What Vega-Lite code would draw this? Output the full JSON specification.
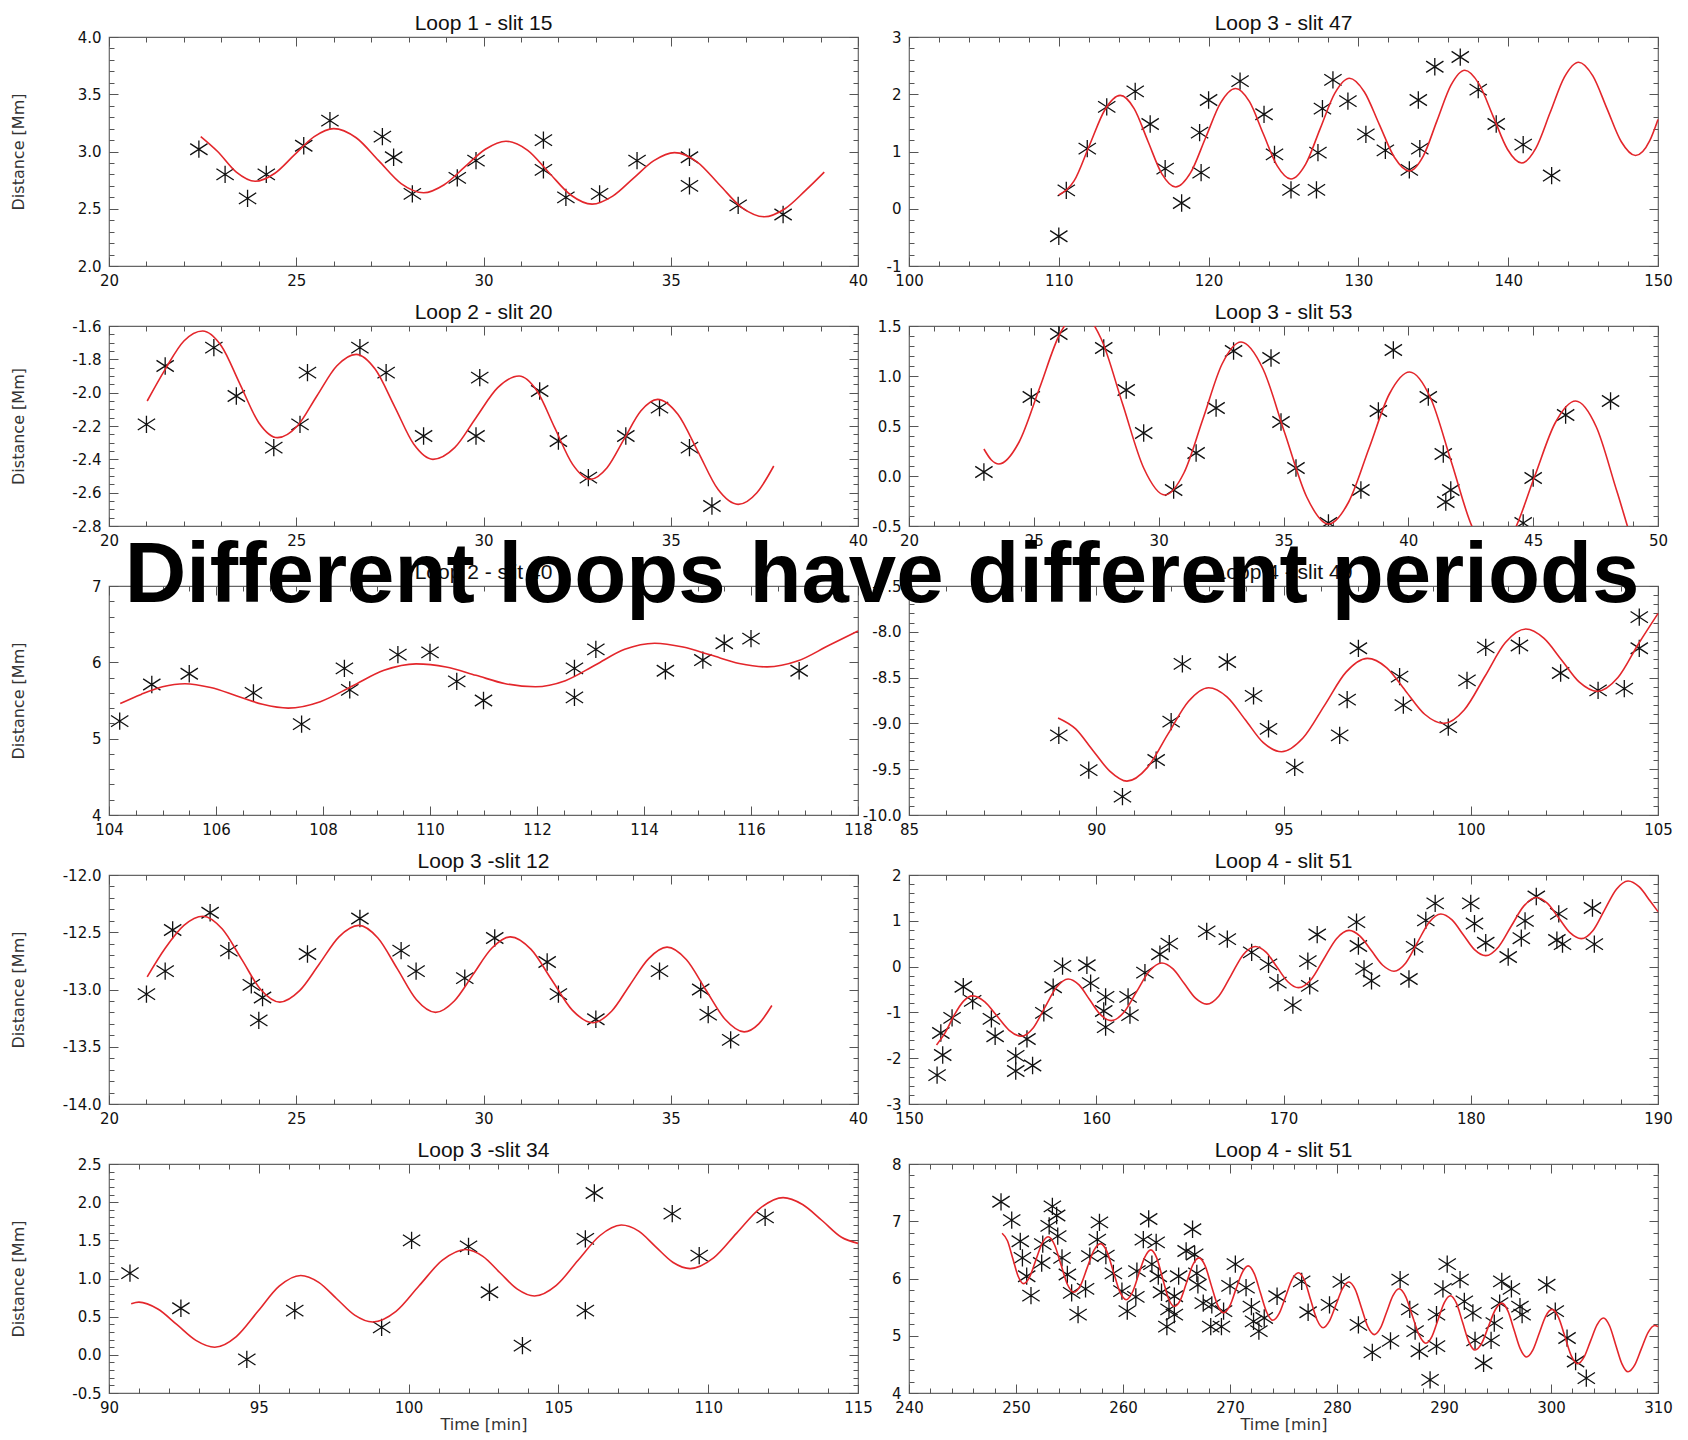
{
  "$schema": "https://vega.github.io/schema/vega-lite/v6.json",
  "background": "white",
  "padding": {"left": 9, "top": 12, "right": 2, "bottom": 0},
  "title": {"text": "Different loops have different periods", "font": "Liberation Sans", "fontSize": 85.2, "fontWeight": "bold", "color": "#000", "anchor": "start", "align": "center", "frame": "group", "baseline": "alphabetic", "offset": 0, "dx": 773, "dy": 675},
  "bounds": "flush",
  "align": "each",
  "columns": 2,
  "spacing": {"row": 60, "column": 51},
  "config": {
    "view": {"stroke": "#666", "strokeWidth": 1.2},
    "axis": {"domain": false, "grid": false, "tickColor": "#555", "tickWidth": 1, "labelFont": "DejaVu Sans", "labelFontSize": 15, "labelColor": "#111", "labelOverlap": false, "labelFlush": false, "titleFont": "DejaVu Sans", "titleFontSize": 16, "titleFontWeight": "normal", "titleColor": "#333"},
    "title": {"font": "Liberation Sans", "fontSize": 21, "fontWeight": "normal", "color": "#111", "anchor": "middle", "frame": "group", "offset": -4},
    "point": {"shape": "M0,-1L0,1M-1,-0.65L1,0.65M-1,0.65L1,-0.65", "size": 300, "filled": false, "stroke": "#111", "strokeWidth": 1.3, "opacity": 1},
    "line": {"color": "#e3262b", "strokeWidth": 1.6, "interpolate": "monotone"}
  },
  "datasets": {
    "A_obs": [{"t":22.4,"d":3.02},{"t":23.1,"d":2.8},{"t":23.7,"d":2.59},{"t":24.2,"d":2.8},{"t":25.2,"d":3.05},{"t":25.9,"d":3.27},{"t":27.3,"d":3.13},{"t":27.6,"d":2.95},{"t":28.1,"d":2.63},{"t":29.3,"d":2.77},{"t":29.8,"d":2.92},{"t":31.6,"d":3.1},{"t":31.6,"d":2.84},{"t":32.2,"d":2.6},{"t":33.1,"d":2.63},{"t":34.1,"d":2.92},{"t":35.5,"d":2.95},{"t":35.5,"d":2.7},{"t":36.8,"d":2.53},{"t":38.0,"d":2.45}],
    "A_fit": [{"t":22.45,"d":3.13},{"t":22.9,"d":3.0},{"t":23.4,"d":2.82},{"t":23.9,"d":2.74},{"t":24.43,"d":2.81},{"t":24.95,"d":2.97},{"t":25.48,"d":3.13},{"t":26.0,"d":3.2},{"t":26.6,"d":3.12},{"t":27.2,"d":2.92},{"t":27.8,"d":2.72},{"t":28.4,"d":2.64},{"t":28.95,"d":2.71},{"t":29.5,"d":2.865},{"t":30.05,"d":3.02},{"t":30.6,"d":3.09},{"t":31.18,"d":3.01},{"t":31.75,"d":2.815},{"t":32.33,"d":2.62},{"t":32.9,"d":2.54},{"t":33.45,"d":2.61},{"t":34.0,"d":2.765},{"t":34.55,"d":2.92},{"t":35.1,"d":2.99},{"t":35.7,"d":2.91},{"t":36.3,"d":2.71},{"t":36.9,"d":2.51},{"t":37.5,"d":2.43},{"t":38.05,"d":2.5},{"t":38.6,"d":2.66},{"t":39.1,"d":2.82}],
    "B_obs": [{"t":110.0,"d":-0.48},{"t":110.5,"d":0.32},{"t":111.9,"d":1.05},{"t":113.2,"d":1.78},{"t":115.1,"d":2.05},{"t":116.1,"d":1.48},{"t":117.1,"d":0.7},{"t":118.2,"d":0.1},{"t":119.4,"d":1.33},{"t":119.5,"d":0.63},{"t":120.0,"d":1.9},{"t":122.1,"d":2.23},{"t":123.7,"d":1.65},{"t":124.4,"d":0.95},{"t":125.5,"d":0.33},{"t":127.2,"d":0.33},{"t":127.3,"d":0.98},{"t":127.6,"d":1.75},{"t":128.3,"d":2.25},{"t":129.3,"d":1.88},{"t":130.5,"d":1.3},{"t":131.8,"d":1.02},{"t":133.4,"d":0.68},{"t":134.0,"d":1.9},{"t":134.1,"d":1.05},{"t":135.1,"d":2.48},{"t":136.8,"d":2.65},{"t":138.0,"d":2.08},{"t":139.2,"d":1.48},{"t":141.0,"d":1.12},{"t":142.9,"d":0.58}],
    "B_fit": [{"t":110.0,"d":0.24},{"t":111.03,"d":0.49},{"t":112.05,"d":1.11},{"t":113.08,"d":1.73},{"t":114.1,"d":1.98},{"t":115.03,"d":1.75},{"t":115.95,"d":1.18},{"t":116.88,"d":0.61},{"t":117.8,"d":0.38},{"t":118.8,"d":0.63},{"t":119.8,"d":1.24},{"t":120.8,"d":1.85},{"t":121.8,"d":2.1},{"t":122.73,"d":1.87},{"t":123.65,"d":1.31},{"t":124.58,"d":0.75},{"t":125.5,"d":0.52},{"t":126.48,"d":0.78},{"t":127.45,"d":1.4},{"t":128.43,"d":2.02},{"t":129.4,"d":2.28},{"t":130.4,"d":2.04},{"t":131.4,"d":1.47},{"t":132.4,"d":0.9},{"t":133.4,"d":0.66},{"t":134.33,"d":0.92},{"t":135.25,"d":1.54},{"t":136.18,"d":2.16},{"t":137.1,"d":2.42},{"t":138.05,"d":2.18},{"t":139.0,"d":1.61},{"t":139.95,"d":1.04},{"t":140.9,"d":0.8},{"t":141.85,"d":1.06},{"t":142.8,"d":1.68},{"t":143.75,"d":2.3},{"t":144.7,"d":2.56},{"t":145.65,"d":2.32},{"t":146.6,"d":1.745},{"t":147.55,"d":1.17},{"t":148.5,"d":0.93},{"t":149.45,"d":1.19},{"t":150.0,"d":1.56}],
    "C_obs": [{"t":21.0,"d":-2.19},{"t":21.5,"d":-1.84},{"t":22.8,"d":-1.73},{"t":23.4,"d":-2.02},{"t":24.4,"d":-2.33},{"t":25.1,"d":-2.19},{"t":25.3,"d":-1.88},{"t":26.7,"d":-1.73},{"t":27.4,"d":-1.88},{"t":28.4,"d":-2.26},{"t":29.8,"d":-2.26},{"t":29.9,"d":-1.91},{"t":31.5,"d":-1.99},{"t":32.0,"d":-2.29},{"t":32.8,"d":-2.51},{"t":33.8,"d":-2.26},{"t":34.7,"d":-2.09},{"t":35.5,"d":-2.33},{"t":36.1,"d":-2.68}],
    "C_fit": [{"t":21.02,"d":-2.05},{"t":21.5,"d":-1.86},{"t":22.0,"d":-1.69},{"t":22.5,"d":-1.63},{"t":23.0,"d":-1.72},{"t":23.5,"d":-1.95},{"t":24.0,"d":-2.18},{"t":24.5,"d":-2.27},{"t":25.03,"d":-2.2},{"t":25.55,"d":-2.02},{"t":26.08,"d":-1.84},{"t":26.6,"d":-1.77},{"t":27.11,"d":-1.86},{"t":27.63,"d":-2.085},{"t":28.14,"d":-2.31},{"t":28.65,"d":-2.4},{"t":29.23,"d":-2.33},{"t":29.8,"d":-2.15},{"t":30.38,"d":-1.97},{"t":30.95,"d":-1.9},{"t":31.43,"d":-1.99},{"t":31.9,"d":-2.21},{"t":32.38,"d":-2.43},{"t":32.85,"d":-2.52},{"t":33.3,"d":-2.45},{"t":33.75,"d":-2.28},{"t":34.2,"d":-2.11},{"t":34.65,"d":-2.04},{"t":35.19,"d":-2.13},{"t":35.73,"d":-2.355},{"t":36.26,"d":-2.58},{"t":36.8,"d":-2.67},{"t":37.3,"d":-2.6},{"t":37.75,"d":-2.44}],
    "D_obs": [{"t":23.0,"d":0.04},{"t":24.9,"d":0.79},{"t":26.0,"d":1.42},{"t":27.8,"d":1.28},{"t":28.7,"d":0.86},{"t":29.4,"d":0.43},{"t":30.6,"d":-0.14},{"t":31.5,"d":0.23},{"t":32.3,"d":0.68},{"t":33.0,"d":1.25},{"t":34.5,"d":1.18},{"t":34.9,"d":0.54},{"t":35.5,"d":0.08},{"t":36.8,"d":-0.47},{"t":38.1,"d":-0.14},{"t":38.8,"d":0.65},{"t":39.4,"d":1.26},{"t":40.8,"d":0.79},{"t":41.4,"d":0.22},{"t":41.5,"d":-0.26},{"t":41.7,"d":-0.14},{"t":44.6,"d":-0.47},{"t":45.0,"d":-0.02},{"t":46.3,"d":0.61},{"t":48.1,"d":0.75}],
    "D_fit": [{"t":23.0,"d":0.27},{"t":23.3,"d":0.16},{"t":23.6,"d":0.12},{"t":24.41,"d":0.34},{"t":25.23,"d":0.88},{"t":26.04,"d":1.42},{"t":26.85,"d":1.64},{"t":27.7,"d":1.37},{"t":28.55,"d":0.725},{"t":29.4,"d":0.08},{"t":30.25,"d":-0.19},{"t":31.01,"d":0.03},{"t":31.78,"d":0.575},{"t":32.54,"d":1.12},{"t":33.3,"d":1.34},{"t":34.18,"d":1.07},{"t":35.05,"d":0.43},{"t":35.93,"d":-0.21},{"t":36.8,"d":-0.48},{"t":37.61,"d":-0.26},{"t":38.43,"d":0.28},{"t":39.24,"d":0.82},{"t":40.05,"d":1.04},{"t":40.89,"d":0.78},{"t":41.73,"d":0.135},{"t":42.56,"d":-0.51},{"t":43.4,"d":-0.77},{"t":44.23,"d":-0.55},{"t":45.05,"d":-0.01},{"t":45.88,"d":0.53},{"t":46.7,"d":0.75},{"t":47.53,"d":0.49},{"t":48.35,"d":-0.15},{"t":49.18,"d":-0.79},{"t":50.0,"d":-1.05}],
    "E_obs": [{"t":104.2,"d":5.23},{"t":104.8,"d":5.71},{"t":105.5,"d":5.85},{"t":106.7,"d":5.6},{"t":107.6,"d":5.19},{"t":108.4,"d":5.92},{"t":108.5,"d":5.64},{"t":109.4,"d":6.1},{"t":110.0,"d":6.13},{"t":110.5,"d":5.75},{"t":111.0,"d":5.5},{"t":112.7,"d":5.92},{"t":112.7,"d":5.54},{"t":113.1,"d":6.17},{"t":114.4,"d":5.89},{"t":115.1,"d":6.03},{"t":115.5,"d":6.25},{"t":116.0,"d":6.31},{"t":116.9,"d":5.89}],
    "E_fit": [{"t":104.21,"d":5.46},{"t":104.6,"d":5.58},{"t":105.0,"d":5.68},{"t":105.42,"d":5.72},{"t":105.9,"d":5.67},{"t":106.39,"d":5.56},{"t":106.87,"d":5.45},{"t":107.35,"d":5.4},{"t":107.95,"d":5.485},{"t":108.55,"d":5.69},{"t":109.14,"d":5.895},{"t":109.74,"d":5.98},{"t":110.3,"d":5.94},{"t":110.86,"d":5.83},{"t":111.41,"d":5.72},{"t":111.97,"d":5.68},{"t":112.53,"d":5.76},{"t":113.09,"d":5.965},{"t":113.64,"d":6.17},{"t":114.2,"d":6.25},{"t":114.73,"d":6.2},{"t":115.25,"d":6.095},{"t":115.78,"d":5.985},{"t":116.3,"d":5.94},{"t":116.88,"d":6.02},{"t":117.45,"d":6.22},{"t":118.0,"d":6.41}],
    "F_obs": [{"t":89.0,"d":-9.13},{"t":89.8,"d":-9.51},{"t":90.7,"d":-9.8},{"t":91.6,"d":-9.4},{"t":92.0,"d":-8.98},{"t":92.3,"d":-8.35},{"t":93.5,"d":-8.33},{"t":94.2,"d":-8.7},{"t":94.6,"d":-9.06},{"t":95.3,"d":-9.48},{"t":96.5,"d":-9.13},{"t":96.7,"d":-8.74},{"t":97.0,"d":-8.18},{"t":98.1,"d":-8.49},{"t":98.2,"d":-8.8},{"t":99.4,"d":-9.04},{"t":99.9,"d":-8.53},{"t":100.4,"d":-8.17},{"t":101.3,"d":-8.15},{"t":102.4,"d":-8.45},{"t":103.4,"d":-8.64},{"t":104.1,"d":-8.62},{"t":104.5,"d":-8.18},{"t":104.5,"d":-7.84}],
    "F_fit": [{"t":88.98,"d":-8.94},{"t":89.45,"d":-9.06},{"t":89.9,"d":-9.29},{"t":90.36,"d":-9.52},{"t":90.82,"d":-9.63},{"t":91.37,"d":-9.48},{"t":91.91,"d":-9.12},{"t":92.46,"d":-8.76},{"t":93.0,"d":-8.61},{"t":93.49,"d":-8.71},{"t":93.98,"d":-8.96},{"t":94.46,"d":-9.21},{"t":94.95,"d":-9.31},{"t":95.52,"d":-9.16},{"t":96.1,"d":-8.8},{"t":96.67,"d":-8.44},{"t":97.24,"d":-8.29},{"t":97.75,"d":-8.39},{"t":98.26,"d":-8.645},{"t":98.77,"d":-8.9},{"t":99.28,"d":-9.0},{"t":99.83,"d":-8.85},{"t":100.38,"d":-8.485},{"t":100.92,"d":-8.12},{"t":101.47,"d":-7.97},{"t":101.95,"d":-8.07},{"t":102.43,"d":-8.31},{"t":102.9,"d":-8.55},{"t":103.38,"d":-8.65},{"t":103.93,"d":-8.5},{"t":104.48,"d":-8.13},{"t":105.0,"d":-7.8}],
    "G_obs": [{"t":21.0,"d":-13.04},{"t":21.5,"d":-12.84},{"t":21.7,"d":-12.48},{"t":22.7,"d":-12.33},{"t":23.2,"d":-12.66},{"t":23.8,"d":-12.96},{"t":24.1,"d":-13.07},{"t":24.0,"d":-13.27},{"t":25.3,"d":-12.69},{"t":26.7,"d":-12.38},{"t":27.8,"d":-12.66},{"t":28.2,"d":-12.84},{"t":29.5,"d":-12.9},{"t":30.3,"d":-12.55},{"t":31.7,"d":-12.76},{"t":32.0,"d":-13.04},{"t":33.0,"d":-13.26},{"t":34.7,"d":-12.84},{"t":35.8,"d":-13.0},{"t":36.0,"d":-13.22},{"t":36.6,"d":-13.44}],
    "G_fit": [{"t":21.02,"d":-12.89},{"t":21.5,"d":-12.64},{"t":22.0,"d":-12.44},{"t":22.51,"d":-12.36},{"t":23.02,"d":-12.47},{"t":23.54,"d":-12.735},{"t":24.05,"d":-13.0},{"t":24.56,"d":-13.11},{"t":25.09,"d":-13.01},{"t":25.62,"d":-12.775},{"t":26.14,"d":-12.54},{"t":26.67,"d":-12.44},{"t":27.18,"d":-12.55},{"t":27.7,"d":-12.82},{"t":28.21,"d":-13.09},{"t":28.72,"d":-13.2},{"t":29.22,"d":-13.1},{"t":29.72,"d":-12.87},{"t":30.22,"d":-12.64},{"t":30.72,"d":-12.54},{"t":31.27,"d":-12.65},{"t":31.82,"d":-12.915},{"t":32.37,"d":-13.18},{"t":32.92,"d":-13.29},{"t":33.42,"d":-13.19},{"t":33.91,"d":-12.96},{"t":34.41,"d":-12.73},{"t":34.9,"d":-12.63},{"t":35.42,"d":-12.74},{"t":35.93,"d":-13.0},{"t":36.45,"d":-13.26},{"t":36.96,"d":-13.37},{"t":37.35,"d":-13.3},{"t":37.7,"d":-13.14}],
    "H_obs": [{"t":151.5,"d":-2.37},{"t":151.8,"d":-1.93},{"t":151.7,"d":-1.45},{"t":152.3,"d":-1.12},{"t":152.9,"d":-0.44},{"t":153.4,"d":-0.75},{"t":154.4,"d":-1.14},{"t":154.6,"d":-1.52},{"t":155.7,"d":-1.95},{"t":155.7,"d":-2.28},{"t":156.3,"d":-1.58},{"t":156.6,"d":-2.16},{"t":157.2,"d":-1.01},{"t":157.7,"d":-0.45},{"t":158.2,"d":0.01},{"t":159.5,"d":0.03},{"t":159.7,"d":-0.36},{"t":160.5,"d":-0.66},{"t":160.4,"d":-0.97},{"t":160.5,"d":-1.32},{"t":161.7,"d":-0.66},{"t":161.8,"d":-1.06},{"t":162.6,"d":-0.13},{"t":163.4,"d":0.27},{"t":163.9,"d":0.5},{"t":165.9,"d":0.77},{"t":167.0,"d":0.6},{"t":168.3,"d":0.31},{"t":169.2,"d":0.05},{"t":169.7,"d":-0.35},{"t":170.5,"d":-0.84},{"t":171.3,"d":0.12},{"t":171.4,"d":-0.42},{"t":171.8,"d":0.7},{"t":173.9,"d":0.97},{"t":174.0,"d":0.45},{"t":174.3,"d":-0.05},{"t":174.7,"d":-0.31},{"t":176.7,"d":-0.27},{"t":177.0,"d":0.43},{"t":177.6,"d":1.01},{"t":178.1,"d":1.38},{"t":180.0,"d":1.38},{"t":180.2,"d":0.94},{"t":180.8,"d":0.52},{"t":182.0,"d":0.21},{"t":182.7,"d":0.62},{"t":182.9,"d":1.0},{"t":183.5,"d":1.53},{"t":184.7,"d":1.15},{"t":184.6,"d":0.58},{"t":184.9,"d":0.49},{"t":186.5,"d":1.28},{"t":186.6,"d":0.49}],
    "H_fit": [{"t":151.47,"d":-1.71},{"t":151.95,"d":-1.43},{"t":152.43,"d":-1.05},{"t":152.9,"d":-0.76},{"t":153.4,"d":-0.64},{"t":154.05,"d":-0.77},{"t":154.7,"d":-1.08},{"t":155.35,"d":-1.39},{"t":156.0,"d":-1.52},{"t":156.63,"d":-1.34},{"t":157.25,"d":-0.895},{"t":157.88,"d":-0.45},{"t":158.5,"d":-0.27},{"t":159.08,"d":-0.4},{"t":159.65,"d":-0.725},{"t":160.23,"d":-1.05},{"t":160.8,"d":-1.18},{"t":161.48,"d":-0.996},{"t":162.15,"d":-0.55},{"t":162.83,"d":-0.1},{"t":163.5,"d":0.08},{"t":164.1,"d":-0.05},{"t":164.7,"d":-0.37},{"t":165.3,"d":-0.69},{"t":165.9,"d":-0.82},{"t":166.55,"d":-0.64},{"t":167.2,"d":-0.19},{"t":167.85,"d":0.26},{"t":168.5,"d":0.44},{"t":169.08,"d":0.31},{"t":169.65,"d":-0.01},{"t":170.23,"d":-0.33},{"t":170.8,"d":-0.46},{"t":171.48,"d":-0.28},{"t":172.15,"d":0.165},{"t":172.83,"d":0.61},{"t":173.5,"d":0.79},{"t":174.1,"d":0.66},{"t":174.7,"d":0.345},{"t":175.3,"d":0.03},{"t":175.9,"d":-0.1},{"t":176.53,"d":0.08},{"t":177.15,"d":0.525},{"t":177.78,"d":0.97},{"t":178.4,"d":1.15},{"t":179.0,"d":1.02},{"t":179.6,"d":0.695},{"t":180.2,"d":0.37},{"t":180.8,"d":0.24},{"t":181.48,"d":0.43},{"t":182.15,"d":0.875},{"t":182.83,"d":1.32},{"t":183.5,"d":1.51},{"t":184.1,"d":1.38},{"t":184.7,"d":1.06},{"t":185.3,"d":0.74},{"t":185.9,"d":0.61},{"t":186.53,"d":0.79},{"t":187.15,"d":1.24},{"t":187.78,"d":1.69},{"t":188.4,"d":1.87},{"t":189.0,"d":1.74},{"t":189.6,"d":1.42},{"t":190.0,"d":1.2}],
    "I_obs": [{"t":90.7,"d":1.07},{"t":92.4,"d":0.61},{"t":94.6,"d":-0.06},{"t":96.2,"d":0.58},{"t":99.1,"d":0.36},{"t":100.1,"d":1.5},{"t":102.0,"d":1.42},{"t":102.7,"d":0.82},{"t":103.8,"d":0.12},{"t":105.9,"d":1.52},{"t":105.9,"d":0.58},{"t":106.2,"d":2.12},{"t":108.8,"d":1.85},{"t":109.7,"d":1.3},{"t":111.9,"d":1.8}],
    "I_fit": [{"t":90.74,"d":0.67},{"t":91.0,"d":0.69},{"t":91.63,"d":0.6},{"t":92.27,"d":0.395},{"t":92.9,"d":0.19},{"t":93.53,"d":0.1},{"t":94.25,"d":0.24},{"t":94.97,"d":0.57},{"t":95.68,"d":0.9},{"t":96.4,"d":1.04},{"t":97.0,"d":0.95},{"t":97.6,"d":0.735},{"t":98.2,"d":0.52},{"t":98.8,"d":0.43},{"t":99.58,"d":0.57},{"t":100.35,"d":0.905},{"t":101.13,"d":1.24},{"t":101.9,"d":1.38},{"t":102.48,"d":1.29},{"t":103.05,"d":1.075},{"t":103.63,"d":0.86},{"t":104.2,"d":0.77},{"t":104.93,"d":0.91},{"t":105.65,"d":1.235},{"t":106.38,"d":1.56},{"t":107.1,"d":1.7},{"t":107.68,"d":1.62},{"t":108.25,"d":1.415},{"t":108.83,"d":1.21},{"t":109.4,"d":1.13},{"t":110.18,"d":1.27},{"t":110.95,"d":1.595},{"t":111.73,"d":1.92},{"t":112.5,"d":2.06},{"t":113.15,"d":1.97},{"t":113.8,"d":1.76},{"t":114.45,"d":1.54},{"t":115.0,"d":1.46}],
    "J_obs": [{"t":248.6,"d":7.34},{"t":249.6,"d":7.02},{"t":250.4,"d":6.65},{"t":250.6,"d":6.36},{"t":251.0,"d":6.04},{"t":251.4,"d":5.7},{"t":252.4,"d":6.27},{"t":252.5,"d":6.6},{"t":253.1,"d":6.92},{"t":253.4,"d":7.26},{"t":253.8,"d":7.1},{"t":253.9,"d":6.74},{"t":254.3,"d":6.36},{"t":254.8,"d":6.07},{"t":255.2,"d":5.75},{"t":255.8,"d":5.37},{"t":256.5,"d":5.82},{"t":256.9,"d":6.39},{"t":257.8,"d":6.98},{"t":257.6,"d":6.68},{"t":258.4,"d":6.4},{"t":259.1,"d":6.09},{"t":259.9,"d":5.78},{"t":260.4,"d":5.43},{"t":261.2,"d":5.68},{"t":261.3,"d":6.13},{"t":261.9,"d":6.68},{"t":262.4,"d":7.04},{"t":263.1,"d":6.63},{"t":262.7,"d":6.25},{"t":263.3,"d":6.04},{"t":263.6,"d":5.76},{"t":264.1,"d":5.16},{"t":264.3,"d":5.46},{"t":264.8,"d":5.37},{"t":264.8,"d":5.69},{"t":265.2,"d":6.04},{"t":265.9,"d":6.48},{"t":266.5,"d":6.86},{"t":266.7,"d":6.42},{"t":266.9,"d":6.09},{"t":267.0,"d":5.89},{"t":267.5,"d":5.57},{"t":268.2,"d":5.16},{"t":268.3,"d":5.54},{"t":269.2,"d":5.16},{"t":269.4,"d":5.43},{"t":270.0,"d":5.87},{"t":270.5,"d":6.25},{"t":271.5,"d":5.84},{"t":272.0,"d":5.51},{"t":272.2,"d":5.25},{"t":272.7,"d":5.08},{"t":273.2,"d":5.31},{"t":274.4,"d":5.69},{"t":276.7,"d":5.95},{"t":277.3,"d":5.41},{"t":279.3,"d":5.54},{"t":280.4,"d":5.94},{"t":282.0,"d":5.19},{"t":283.3,"d":4.71},{"t":285.0,"d":4.91},{"t":285.9,"d":5.98},{"t":286.8,"d":5.46},{"t":287.3,"d":5.08},{"t":287.7,"d":4.73},{"t":288.7,"d":4.23},{"t":289.3,"d":4.82},{"t":289.3,"d":5.37},{"t":289.9,"d":5.82},{"t":290.3,"d":6.25},{"t":291.5,"d":5.98},{"t":291.9,"d":5.6},{"t":292.7,"d":5.4},{"t":292.9,"d":4.92},{"t":293.7,"d":4.52},{"t":294.4,"d":4.92},{"t":294.7,"d":5.22},{"t":295.2,"d":5.57},{"t":295.4,"d":5.95},{"t":296.3,"d":5.82},{"t":297.1,"d":5.51},{"t":297.3,"d":5.37},{"t":299.6,"d":5.89},{"t":300.4,"d":5.43},{"t":301.5,"d":4.96},{"t":302.3,"d":4.55},{"t":303.3,"d":4.26}],
    "J_fit": [{"t":248.7,"d":6.79},{"t":249.2,"d":6.66},{"t":249.7,"d":6.35},{"t":250.2,"d":6.04},{"t":250.7,"d":5.91},{"t":251.28,"d":6.03},{"t":251.85,"d":6.32},{"t":252.43,"d":6.61},{"t":253.0,"d":6.73},{"t":253.6,"d":6.59},{"t":254.2,"d":6.245},{"t":254.8,"d":5.9},{"t":255.4,"d":5.76},{"t":256.03,"d":5.88},{"t":256.65,"d":6.185},{"t":257.28,"d":6.49},{"t":257.9,"d":6.61},{"t":258.5,"d":6.47},{"t":259.1,"d":6.12},{"t":259.7,"d":5.77},{"t":260.3,"d":5.63},{"t":260.88,"d":5.76},{"t":261.45,"d":6.065},{"t":262.03,"d":6.37},{"t":262.6,"d":6.5},{"t":263.15,"d":6.36},{"t":263.7,"d":6.005},{"t":264.25,"d":5.65},{"t":264.8,"d":5.51},{"t":265.38,"d":5.63},{"t":265.95,"d":5.935},{"t":266.53,"d":6.24},{"t":267.1,"d":6.36},{"t":267.68,"d":6.22},{"t":268.25,"d":5.88},{"t":268.83,"d":5.54},{"t":269.4,"d":5.4},{"t":269.98,"d":5.52},{"t":270.55,"d":5.81},{"t":271.13,"d":6.1},{"t":271.7,"d":6.22},{"t":272.28,"d":6.08},{"t":272.85,"d":5.745},{"t":273.43,"d":5.41},{"t":274.0,"d":5.27},{"t":274.6,"d":5.39},{"t":275.2,"d":5.685},{"t":275.8,"d":5.98},{"t":276.4,"d":6.1},{"t":276.98,"d":5.96},{"t":277.55,"d":5.62},{"t":278.13,"d":5.28},{"t":278.7,"d":5.14},{"t":279.3,"d":5.26},{"t":279.9,"d":5.54},{"t":280.5,"d":5.82},{"t":281.1,"d":5.94},{"t":281.7,"d":5.81},{"t":282.3,"d":5.48},{"t":282.9,"d":5.15},{"t":283.5,"d":5.02},{"t":284.08,"d":5.14},{"t":284.65,"d":5.42},{"t":285.23,"d":5.7},{"t":285.8,"d":5.82},{"t":286.43,"d":5.68},{"t":287.05,"d":5.345},{"t":287.68,"d":5.01},{"t":288.3,"d":4.87},{"t":288.88,"d":4.99},{"t":289.45,"d":5.285},{"t":290.03,"d":5.58},{"t":290.6,"d":5.7},{"t":291.18,"d":5.56},{"t":291.75,"d":5.225},{"t":292.33,"d":4.89},{"t":292.9,"d":4.75},{"t":293.53,"d":4.87},{"t":294.15,"d":5.16},{"t":294.78,"d":5.45},{"t":295.4,"d":5.57},{"t":295.98,"d":5.43},{"t":296.55,"d":5.1},{"t":297.13,"d":4.77},{"t":297.7,"d":4.63},{"t":298.3,"d":4.75},{"t":298.9,"d":5.045},{"t":299.5,"d":5.34},{"t":300.1,"d":5.46},{"t":300.7,"d":5.32},{"t":301.3,"d":4.985},{"t":301.9,"d":4.65},{"t":302.5,"d":4.51},{"t":303.1,"d":4.63},{"t":303.7,"d":4.91},{"t":304.3,"d":5.19},{"t":304.9,"d":5.31},{"t":305.48,"d":5.17},{"t":306.05,"d":4.84},{"t":306.63,"d":4.51},{"t":307.2,"d":4.37},{"t":307.83,"d":4.49},{"t":308.45,"d":4.775},{"t":309.08,"d":5.06},{"t":309.7,"d":5.18},{"t":310.0,"d":5.16}]
  },
  "concat": [
    {
      "width": 749, "height": 229, "title": "Loop 1 - slit 15",
      "layer": [
        {"data": {"name": "A_obs"}, "mark": {"type": "point"},
         "encoding": {
           "x": {"field": "t", "type": "quantitative", "scale": {"domain": [20, 40], "nice": false, "zero": false},
                 "axis": {"orient": "bottom", "tickCount": 20, "tickSize": {"condition": {"test": "abs(datum.value/5-round(datum.value/5))<1e-6", "value": -9}, "value": -5}, "labelPadding": 16, "labelExpr": "abs(datum.value/5-round(datum.value/5))<1e-6 ? format(datum.value,'.0f') : ''", "title": null}},
           "y": {"field": "d", "type": "quantitative", "scale": {"domain": [2, 4], "nice": false, "zero": false},
                 "axis": {"orient": "left", "tickCount": 20, "tickSize": {"condition": {"test": "abs(datum.value/0.5-round(datum.value/0.5))<1e-6", "value": -9}, "value": -5}, "labelPadding": 17, "labelExpr": "abs(datum.value/0.5-round(datum.value/0.5))<1e-6 ? (datum.value<-1e-9 ? '-' : '') + format(abs(datum.value),'.1f') : ''", "title": "Distance [Mm]", "titleX": -91, "titleY": 114.5, "titleBaseline": "middle", "titleAlign": "center", "titleAngle": 270}}
         }},
        {"data": {"name": "A_fit"}, "mark": {"type": "line"},
         "encoding": {
           "x": {"field": "t", "type": "quantitative", "scale": {"domain": [20, 40], "nice": false, "zero": false},
                 "axis": {"orient": "top", "tickCount": 20, "tickSize": {"condition": {"test": "abs(datum.value/5-round(datum.value/5))<1e-6", "value": -9}, "value": -5}, "labels": false, "title": null}},
           "y": {"field": "d", "type": "quantitative", "scale": {"domain": [2, 4], "nice": false, "zero": false},
                 "axis": {"orient": "right", "tickCount": 20, "tickSize": {"condition": {"test": "abs(datum.value/0.5-round(datum.value/0.5))<1e-6", "value": -9}, "value": -5}, "labels": false, "title": null}}
         }}
      ],
      "resolve": {"axis": {"x": "independent", "y": "independent"}}
    },
    {
      "width": 749, "height": 229, "title": "Loop 3 - slit 47",
      "layer": [
        {"data": {"name": "B_obs"}, "mark": {"type": "point"},
         "encoding": {
           "x": {"field": "t", "type": "quantitative", "scale": {"domain": [100, 150], "nice": false, "zero": false},
                 "axis": {"orient": "bottom", "tickCount": 25, "tickSize": {"condition": {"test": "abs(datum.value/10-round(datum.value/10))<1e-6", "value": -9}, "value": -5}, "labelPadding": 16, "labelExpr": "abs(datum.value/10-round(datum.value/10))<1e-6 ? format(datum.value,'.0f') : ''", "title": null}},
           "y": {"field": "d", "type": "quantitative", "scale": {"domain": [-1, 3], "nice": false, "zero": false},
                 "axis": {"orient": "left", "tickCount": 20, "tickSize": {"condition": {"test": "abs(datum.value/1-round(datum.value/1))<1e-6", "value": -9}, "value": -5}, "labelPadding": 17, "labelExpr": "abs(datum.value/1-round(datum.value/1))<1e-6 ? (datum.value<-1e-9 ? '-' : '') + format(abs(datum.value),'.0f') : ''", "title": null}}
         }},
        {"data": {"name": "B_fit"}, "mark": {"type": "line"},
         "encoding": {
           "x": {"field": "t", "type": "quantitative", "scale": {"domain": [100, 150], "nice": false, "zero": false},
                 "axis": {"orient": "top", "tickCount": 25, "tickSize": {"condition": {"test": "abs(datum.value/10-round(datum.value/10))<1e-6", "value": -9}, "value": -5}, "labels": false, "title": null}},
           "y": {"field": "d", "type": "quantitative", "scale": {"domain": [-1, 3], "nice": false, "zero": false},
                 "axis": {"orient": "right", "tickCount": 20, "tickSize": {"condition": {"test": "abs(datum.value/1-round(datum.value/1))<1e-6", "value": -9}, "value": -5}, "labels": false, "title": null}}
         }}
      ],
      "resolve": {"axis": {"x": "independent", "y": "independent"}}
    },
    {
      "width": 749, "height": 200, "title": "Loop 2 - slit 20",
      "layer": [
        {"data": {"name": "C_obs"}, "mark": {"type": "point"},
         "encoding": {
           "x": {"field": "t", "type": "quantitative", "scale": {"domain": [20, 40], "nice": false, "zero": false},
                 "axis": {"orient": "bottom", "tickCount": 20, "tickSize": {"condition": {"test": "abs(datum.value/5-round(datum.value/5))<1e-6", "value": -9}, "value": -5}, "labelPadding": 16, "labelExpr": "abs(datum.value/5-round(datum.value/5))<1e-6 ? format(datum.value,'.0f') : ''", "title": null}},
           "y": {"field": "d", "type": "quantitative", "scale": {"domain": [-2.8, -1.6], "nice": false, "zero": false},
                 "axis": {"orient": "left", "tickCount": 24, "tickSize": {"condition": {"test": "abs(datum.value/0.2-round(datum.value/0.2))<1e-6", "value": -9}, "value": -5}, "labelPadding": 17, "labelExpr": "abs(datum.value/0.2-round(datum.value/0.2))<1e-6 ? (datum.value<-1e-9 ? '-' : '') + format(abs(datum.value),'.1f') : ''", "title": "Distance [Mm]", "titleX": -91, "titleY": 100, "titleBaseline": "middle", "titleAlign": "center", "titleAngle": 270}}
         }},
        {"data": {"name": "C_fit"}, "mark": {"type": "line"},
         "encoding": {
           "x": {"field": "t", "type": "quantitative", "scale": {"domain": [20, 40], "nice": false, "zero": false},
                 "axis": {"orient": "top", "tickCount": 20, "tickSize": {"condition": {"test": "abs(datum.value/5-round(datum.value/5))<1e-6", "value": -9}, "value": -5}, "labels": false, "title": null}},
           "y": {"field": "d", "type": "quantitative", "scale": {"domain": [-2.8, -1.6], "nice": false, "zero": false},
                 "axis": {"orient": "right", "tickCount": 24, "tickSize": {"condition": {"test": "abs(datum.value/0.2-round(datum.value/0.2))<1e-6", "value": -9}, "value": -5}, "labels": false, "title": null}}
         }}
      ],
      "resolve": {"axis": {"x": "independent", "y": "independent"}}
    },
    {
      "width": 749, "height": 200, "title": "Loop 3 - slit 53",
      "layer": [
        {"data": {"name": "D_obs"}, "mark": {"type": "point", "clip": true},
         "encoding": {
           "x": {"field": "t", "type": "quantitative", "scale": {"domain": [20, 50], "nice": false, "zero": false},
                 "axis": {"orient": "bottom", "tickCount": 30, "tickSize": {"condition": {"test": "abs(datum.value/5-round(datum.value/5))<1e-6", "value": -9}, "value": -5}, "labelPadding": 16, "labelExpr": "abs(datum.value/5-round(datum.value/5))<1e-6 ? format(datum.value,'.0f') : ''", "title": null}},
           "y": {"field": "d", "type": "quantitative", "scale": {"domain": [-0.5, 1.5], "nice": false, "zero": false},
                 "axis": {"orient": "left", "tickCount": 20, "tickSize": {"condition": {"test": "abs(datum.value/0.5-round(datum.value/0.5))<1e-6", "value": -9}, "value": -5}, "labelPadding": 17, "labelExpr": "abs(datum.value/0.5-round(datum.value/0.5))<1e-6 ? (datum.value<-1e-9 ? '-' : '') + format(abs(datum.value),'.1f') : ''", "title": null}}
         }},
        {"data": {"name": "D_fit"}, "mark": {"type": "line", "clip": true},
         "encoding": {
           "x": {"field": "t", "type": "quantitative", "scale": {"domain": [20, 50], "nice": false, "zero": false},
                 "axis": {"orient": "top", "tickCount": 30, "tickSize": {"condition": {"test": "abs(datum.value/5-round(datum.value/5))<1e-6", "value": -9}, "value": -5}, "labels": false, "title": null}},
           "y": {"field": "d", "type": "quantitative", "scale": {"domain": [-0.5, 1.5], "nice": false, "zero": false},
                 "axis": {"orient": "right", "tickCount": 20, "tickSize": {"condition": {"test": "abs(datum.value/0.5-round(datum.value/0.5))<1e-6", "value": -9}, "value": -5}, "labels": false, "title": null}}
         }}
      ],
      "resolve": {"axis": {"x": "independent", "y": "independent"}}
    },
    {
      "width": 749, "height": 229, "title": "Loop 2 - slit 40",
      "layer": [
        {"data": {"name": "E_obs"}, "mark": {"type": "point"},
         "encoding": {
           "x": {"field": "t", "type": "quantitative", "scale": {"domain": [104, 118], "nice": false, "zero": false},
                 "axis": {"orient": "bottom", "tickCount": 28, "tickSize": {"condition": {"test": "abs(datum.value/2-round(datum.value/2))<1e-6", "value": -9}, "value": -5}, "labelPadding": 16, "labelExpr": "abs(datum.value/2-round(datum.value/2))<1e-6 ? format(datum.value,'.0f') : ''", "title": null}},
           "y": {"field": "d", "type": "quantitative", "scale": {"domain": [4, 7], "nice": false, "zero": false},
                 "axis": {"orient": "left", "tickCount": 15, "tickSize": {"condition": {"test": "abs(datum.value/1-round(datum.value/1))<1e-6", "value": -9}, "value": -5}, "labelPadding": 17, "labelExpr": "abs(datum.value/1-round(datum.value/1))<1e-6 ? (datum.value<-1e-9 ? '-' : '') + format(abs(datum.value),'.0f') : ''", "title": "Distance [Mm]", "titleX": -91, "titleY": 114.5, "titleBaseline": "middle", "titleAlign": "center", "titleAngle": 270}}
         }},
        {"data": {"name": "E_fit"}, "mark": {"type": "line"},
         "encoding": {
           "x": {"field": "t", "type": "quantitative", "scale": {"domain": [104, 118], "nice": false, "zero": false},
                 "axis": {"orient": "top", "tickCount": 28, "tickSize": {"condition": {"test": "abs(datum.value/2-round(datum.value/2))<1e-6", "value": -9}, "value": -5}, "labels": false, "title": null}},
           "y": {"field": "d", "type": "quantitative", "scale": {"domain": [4, 7], "nice": false, "zero": false},
                 "axis": {"orient": "right", "tickCount": 15, "tickSize": {"condition": {"test": "abs(datum.value/1-round(datum.value/1))<1e-6", "value": -9}, "value": -5}, "labels": false, "title": null}}
         }}
      ],
      "resolve": {"axis": {"x": "independent", "y": "independent"}}
    },
    {
      "width": 749, "height": 229, "title": "Loop 4 - slit 40",
      "layer": [
        {"data": {"name": "F_obs"}, "mark": {"type": "point"},
         "encoding": {
           "x": {"field": "t", "type": "quantitative", "scale": {"domain": [85, 105], "nice": false, "zero": false},
                 "axis": {"orient": "bottom", "tickCount": 20, "tickSize": {"condition": {"test": "abs(datum.value/5-round(datum.value/5))<1e-6", "value": -9}, "value": -5}, "labelPadding": 16, "labelExpr": "abs(datum.value/5-round(datum.value/5))<1e-6 ? format(datum.value,'.0f') : ''", "title": null}},
           "y": {"field": "d", "type": "quantitative", "scale": {"domain": [-10, -7.5], "nice": false, "zero": false},
                 "axis": {"orient": "left", "tickCount": 25, "tickSize": {"condition": {"test": "abs(datum.value/0.5-round(datum.value/0.5))<1e-6", "value": -9}, "value": -5}, "labelPadding": 17, "labelExpr": "abs(datum.value/0.5-round(datum.value/0.5))<1e-6 ? (datum.value<-1e-9 ? '-' : '') + format(abs(datum.value),'.1f') : ''", "title": null}}
         }},
        {"data": {"name": "F_fit"}, "mark": {"type": "line"},
         "encoding": {
           "x": {"field": "t", "type": "quantitative", "scale": {"domain": [85, 105], "nice": false, "zero": false},
                 "axis": {"orient": "top", "tickCount": 20, "tickSize": {"condition": {"test": "abs(datum.value/5-round(datum.value/5))<1e-6", "value": -9}, "value": -5}, "labels": false, "title": null}},
           "y": {"field": "d", "type": "quantitative", "scale": {"domain": [-10, -7.5], "nice": false, "zero": false},
                 "axis": {"orient": "right", "tickCount": 25, "tickSize": {"condition": {"test": "abs(datum.value/0.5-round(datum.value/0.5))<1e-6", "value": -9}, "value": -5}, "labels": false, "title": null}}
         }}
      ],
      "resolve": {"axis": {"x": "independent", "y": "independent"}}
    },
    {
      "width": 749, "height": 229, "title": "Loop 3 -slit 12",
      "layer": [
        {"data": {"name": "G_obs"}, "mark": {"type": "point"},
         "encoding": {
           "x": {"field": "t", "type": "quantitative", "scale": {"domain": [20, 40], "nice": false, "zero": false},
                 "axis": {"orient": "bottom", "tickCount": 20, "tickSize": {"condition": {"test": "abs(datum.value/5-round(datum.value/5))<1e-6", "value": -9}, "value": -5}, "labelPadding": 16, "labelExpr": "abs(datum.value/5-round(datum.value/5))<1e-6 ? format(datum.value,'.0f') : ''", "title": null}},
           "y": {"field": "d", "type": "quantitative", "scale": {"domain": [-14, -12], "nice": false, "zero": false},
                 "axis": {"orient": "left", "tickCount": 20, "tickSize": {"condition": {"test": "abs(datum.value/0.5-round(datum.value/0.5))<1e-6", "value": -9}, "value": -5}, "labelPadding": 17, "labelExpr": "abs(datum.value/0.5-round(datum.value/0.5))<1e-6 ? (datum.value<-1e-9 ? '-' : '') + format(abs(datum.value),'.1f') : ''", "title": "Distance [Mm]", "titleX": -91, "titleY": 114.5, "titleBaseline": "middle", "titleAlign": "center", "titleAngle": 270}}
         }},
        {"data": {"name": "G_fit"}, "mark": {"type": "line"},
         "encoding": {
           "x": {"field": "t", "type": "quantitative", "scale": {"domain": [20, 40], "nice": false, "zero": false},
                 "axis": {"orient": "top", "tickCount": 20, "tickSize": {"condition": {"test": "abs(datum.value/5-round(datum.value/5))<1e-6", "value": -9}, "value": -5}, "labels": false, "title": null}},
           "y": {"field": "d", "type": "quantitative", "scale": {"domain": [-14, -12], "nice": false, "zero": false},
                 "axis": {"orient": "right", "tickCount": 20, "tickSize": {"condition": {"test": "abs(datum.value/0.5-round(datum.value/0.5))<1e-6", "value": -9}, "value": -5}, "labels": false, "title": null}}
         }}
      ],
      "resolve": {"axis": {"x": "independent", "y": "independent"}}
    },
    {
      "width": 749, "height": 229, "title": "Loop 4 - slit 51",
      "layer": [
        {"data": {"name": "H_obs"}, "mark": {"type": "point"},
         "encoding": {
           "x": {"field": "t", "type": "quantitative", "scale": {"domain": [150, 190], "nice": false, "zero": false},
                 "axis": {"orient": "bottom", "tickCount": 20, "tickSize": {"condition": {"test": "abs(datum.value/10-round(datum.value/10))<1e-6", "value": -9}, "value": -5}, "labelPadding": 16, "labelExpr": "abs(datum.value/10-round(datum.value/10))<1e-6 ? format(datum.value,'.0f') : ''", "title": null}},
           "y": {"field": "d", "type": "quantitative", "scale": {"domain": [-3, 2], "nice": false, "zero": false},
                 "axis": {"orient": "left", "tickCount": 25, "tickSize": {"condition": {"test": "abs(datum.value/1-round(datum.value/1))<1e-6", "value": -9}, "value": -5}, "labelPadding": 17, "labelExpr": "abs(datum.value/1-round(datum.value/1))<1e-6 ? (datum.value<-1e-9 ? '-' : '') + format(abs(datum.value),'.0f') : ''", "title": null}}
         }},
        {"data": {"name": "H_fit"}, "mark": {"type": "line"},
         "encoding": {
           "x": {"field": "t", "type": "quantitative", "scale": {"domain": [150, 190], "nice": false, "zero": false},
                 "axis": {"orient": "top", "tickCount": 20, "tickSize": {"condition": {"test": "abs(datum.value/10-round(datum.value/10))<1e-6", "value": -9}, "value": -5}, "labels": false, "title": null}},
           "y": {"field": "d", "type": "quantitative", "scale": {"domain": [-3, 2], "nice": false, "zero": false},
                 "axis": {"orient": "right", "tickCount": 25, "tickSize": {"condition": {"test": "abs(datum.value/1-round(datum.value/1))<1e-6", "value": -9}, "value": -5}, "labels": false, "title": null}}
         }}
      ],
      "resolve": {"axis": {"x": "independent", "y": "independent"}}
    },
    {
      "width": 749, "height": 229, "title": "Loop 3 -slit 34",
      "layer": [
        {"data": {"name": "I_obs"}, "mark": {"type": "point"},
         "encoding": {
           "x": {"field": "t", "type": "quantitative", "scale": {"domain": [90, 115], "nice": false, "zero": false},
                 "axis": {"orient": "bottom", "tickCount": 25, "tickSize": {"condition": {"test": "abs(datum.value/5-round(datum.value/5))<1e-6", "value": -9}, "value": -5}, "labelPadding": 16, "labelExpr": "abs(datum.value/5-round(datum.value/5))<1e-6 ? format(datum.value,'.0f') : ''", "title": "Time [min]", "titleX": 374.5, "titleY": 31, "titleBaseline": "middle", "titleAlign": "center"}},
           "y": {"field": "d", "type": "quantitative", "scale": {"domain": [-0.5, 2.5], "nice": false, "zero": false},
                 "axis": {"orient": "left", "tickCount": 30, "tickSize": {"condition": {"test": "abs(datum.value/0.5-round(datum.value/0.5))<1e-6", "value": -9}, "value": -5}, "labelPadding": 17, "labelExpr": "abs(datum.value/0.5-round(datum.value/0.5))<1e-6 ? (datum.value<-1e-9 ? '-' : '') + format(abs(datum.value),'.1f') : ''", "title": "Distance [Mm]", "titleX": -91, "titleY": 114.5, "titleBaseline": "middle", "titleAlign": "center", "titleAngle": 270}}
         }},
        {"data": {"name": "I_fit"}, "mark": {"type": "line"},
         "encoding": {
           "x": {"field": "t", "type": "quantitative", "scale": {"domain": [90, 115], "nice": false, "zero": false},
                 "axis": {"orient": "top", "tickCount": 25, "tickSize": {"condition": {"test": "abs(datum.value/5-round(datum.value/5))<1e-6", "value": -9}, "value": -5}, "labels": false, "title": null}},
           "y": {"field": "d", "type": "quantitative", "scale": {"domain": [-0.5, 2.5], "nice": false, "zero": false},
                 "axis": {"orient": "right", "tickCount": 30, "tickSize": {"condition": {"test": "abs(datum.value/0.5-round(datum.value/0.5))<1e-6", "value": -9}, "value": -5}, "labels": false, "title": null}}
         }}
      ],
      "resolve": {"axis": {"x": "independent", "y": "independent"}}
    },
    {
      "width": 749, "height": 229, "title": "Loop 4 - slit 51",
      "layer": [
        {"data": {"name": "J_obs"}, "mark": {"type": "point"},
         "encoding": {
           "x": {"field": "t", "type": "quantitative", "scale": {"domain": [240, 310], "nice": false, "zero": false},
                 "axis": {"orient": "bottom", "tickCount": 35, "tickSize": {"condition": {"test": "abs(datum.value/10-round(datum.value/10))<1e-6", "value": -9}, "value": -5}, "labelPadding": 16, "labelExpr": "abs(datum.value/10-round(datum.value/10))<1e-6 ? format(datum.value,'.0f') : ''", "title": "Time [min]", "titleX": 374.5, "titleY": 31, "titleBaseline": "middle", "titleAlign": "center"}},
           "y": {"field": "d", "type": "quantitative", "scale": {"domain": [4, 8], "nice": false, "zero": false},
                 "axis": {"orient": "left", "tickCount": 20, "tickSize": {"condition": {"test": "abs(datum.value/1-round(datum.value/1))<1e-6", "value": -9}, "value": -5}, "labelPadding": 17, "labelExpr": "abs(datum.value/1-round(datum.value/1))<1e-6 ? (datum.value<-1e-9 ? '-' : '') + format(abs(datum.value),'.0f') : ''", "title": null}}
         }},
        {"data": {"name": "J_fit"}, "mark": {"type": "line"},
         "encoding": {
           "x": {"field": "t", "type": "quantitative", "scale": {"domain": [240, 310], "nice": false, "zero": false},
                 "axis": {"orient": "top", "tickCount": 35, "tickSize": {"condition": {"test": "abs(datum.value/10-round(datum.value/10))<1e-6", "value": -9}, "value": -5}, "labels": false, "title": null}},
           "y": {"field": "d", "type": "quantitative", "scale": {"domain": [4, 8], "nice": false, "zero": false},
                 "axis": {"orient": "right", "tickCount": 20, "tickSize": {"condition": {"test": "abs(datum.value/1-round(datum.value/1))<1e-6", "value": -9}, "value": -5}, "labels": false, "title": null}}
         }}
      ],
      "resolve": {"axis": {"x": "independent", "y": "independent"}}
    }
  ]
}
